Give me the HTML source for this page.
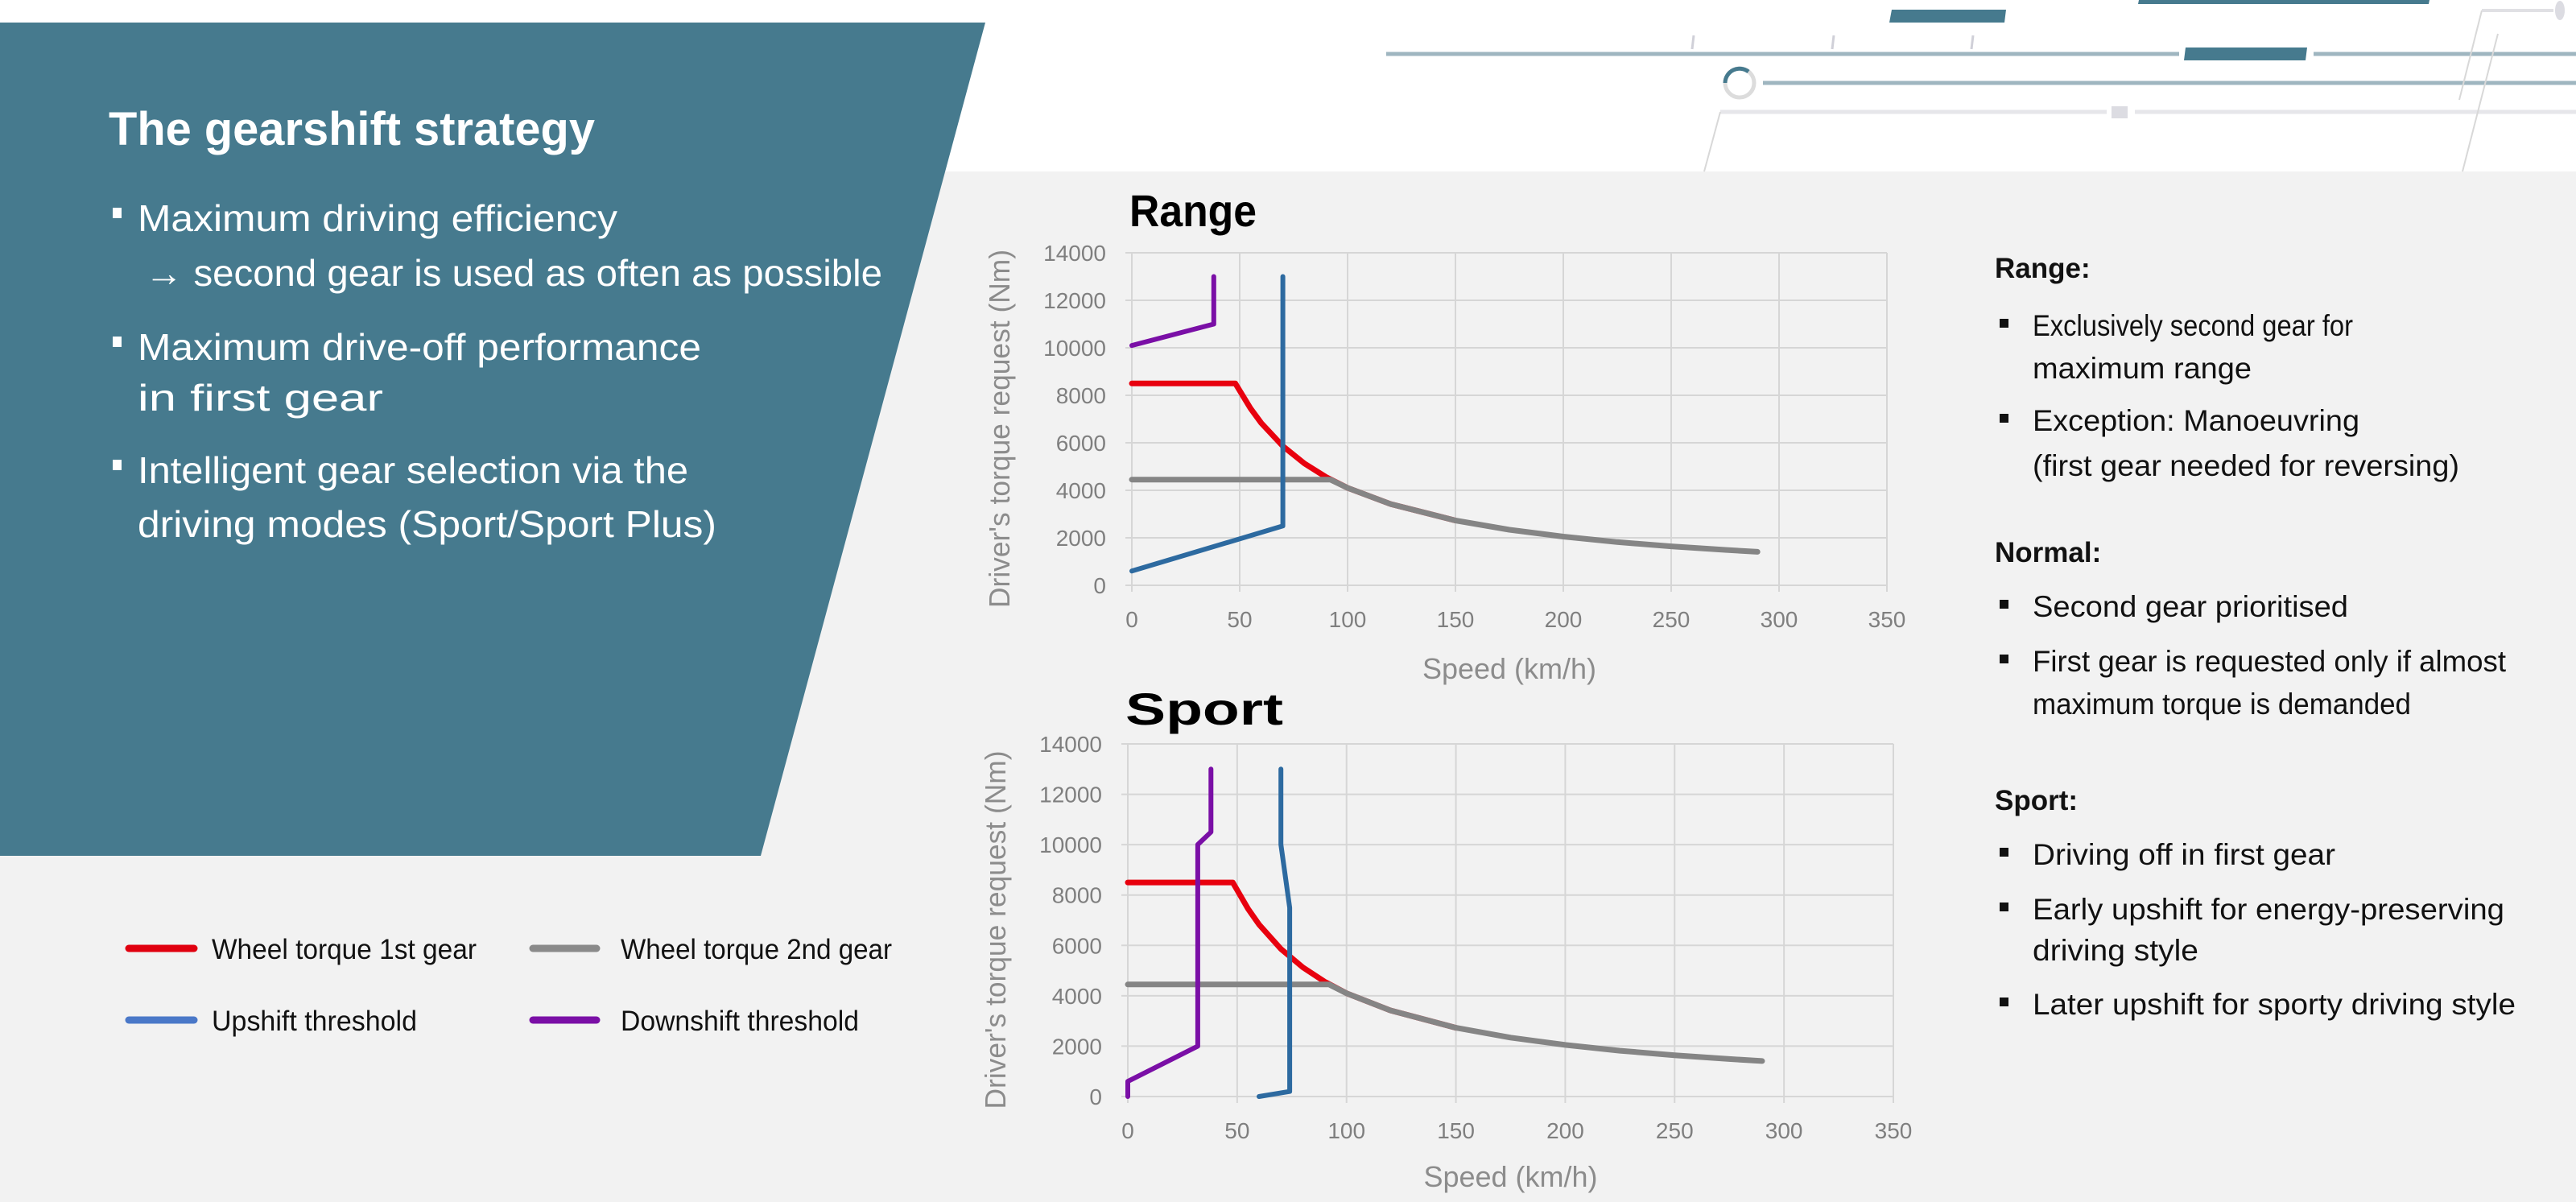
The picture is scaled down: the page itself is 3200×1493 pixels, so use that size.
<!DOCTYPE html>
<html><head><meta charset="utf-8"><title>The gearshift strategy</title>
<style>
html,body{margin:0;padding:0;background:#f2f2f2;}
svg{display:block;}
text{font-family:"Liberation Sans",sans-serif;}
</style></head>
<body>
<svg id="root" width="3200" height="1493" viewBox="0 0 3200 1493" xmlns="http://www.w3.org/2000/svg">
  <rect x="0" y="0" width="3200" height="1493" fill="#f2f2f2"/>
  <rect x="0" y="0" width="3200" height="213" fill="#ffffff"/>
  <g>
    <line x1="1722" y1="67" x2="2707" y2="67" stroke="#9fb6c0" stroke-width="5"/>
    <polygon points="2715,59 2866,59 2864,75 2713,75" fill="#467a8e"/>
    <line x1="2874" y1="67" x2="3200" y2="67" stroke="#9fb6c0" stroke-width="5"/>
    <polygon points="2350,12 2492,12 2490,28 2347,28" fill="#467a8e"/>
    <polygon points="2657,0 3018,0 3017,5 2656,5" fill="#467a8e"/>
    <line x1="2104" y1="44" x2="2102" y2="61" stroke="#d0d0d8" stroke-width="3"/>
    <line x1="2278" y1="44" x2="2276" y2="61" stroke="#d0d0d8" stroke-width="3"/>
    <line x1="2451" y1="44" x2="2449" y2="61" stroke="#d0d0d8" stroke-width="3"/>
    <circle cx="2161" cy="103" r="18" fill="none" stroke="#dcdcdc" stroke-width="5"/>
    <path d="M2143,103 A18,18 0 0 1 2172,89" fill="none" stroke="#467a8e" stroke-width="5"/>
    <line x1="2190" y1="103" x2="3200" y2="103" stroke="#9fb6c0" stroke-width="5"/>
    <line x1="2137" y1="139" x2="2617" y2="139" stroke="#e6e6ea" stroke-width="5"/>
    <rect x="2623" y="132" width="20" height="15" fill="#dcdce2"/>
    <line x1="2652" y1="139" x2="3200" y2="139" stroke="#e6e6ea" stroke-width="5"/>
    <line x1="2137" y1="139" x2="2117" y2="213" stroke="#d8d8d8" stroke-width="2"/>
    <line x1="3083" y1="13" x2="3055" y2="124" stroke="#d8d8d8" stroke-width="2"/>
    <line x1="3103" y1="42" x2="3059" y2="213" stroke="#d8d8d8" stroke-width="2"/>
    <line x1="3083" y1="13" x2="3172" y2="13" stroke="#e0e0e4" stroke-width="4"/>
    <ellipse cx="3180" cy="13" rx="6" ry="12" fill="#dcdce2"/>
  </g>

  <polygon points="0,28 1224,28 945,1063 0,1063" fill="#467a8e"/>
  <g fill="#ffffff">
    <text x="135" y="180" font-size="58" font-weight="bold" textLength="604" lengthAdjust="spacingAndGlyphs">The gearshift strategy</text>
    <rect x="140" y="258" width="11" height="13"/>
    <text x="171" y="287" font-size="46" textLength="596" lengthAdjust="spacingAndGlyphs">Maximum driving efficiency</text>
    <text x="180" y="355" font-size="46" textLength="916" lengthAdjust="spacingAndGlyphs">→ second gear is used as often as possible</text>
    <rect x="140" y="418" width="11" height="13"/>
    <text x="171" y="447" font-size="46" textLength="700" lengthAdjust="spacingAndGlyphs">Maximum drive-off performance</text>
    <text x="171" y="510" font-size="46" textLength="305" lengthAdjust="spacingAndGlyphs">in first gear</text>
    <rect x="140" y="571" width="11" height="13"/>
    <text x="171" y="600" font-size="46" textLength="684" lengthAdjust="spacingAndGlyphs">Intelligent gear selection via the</text>
    <text x="171" y="667" font-size="46" textLength="719" lengthAdjust="spacingAndGlyphs">driving modes (Sport/Sport Plus)</text>
  </g>

  <g>
    <g>
      <line x1="160" y1="1178" x2="241" y2="1178" stroke="#e0000f" stroke-width="9" stroke-linecap="round"/>
      <text x="263" y="1191" font-size="35" fill="#111" textLength="329" lengthAdjust="spacingAndGlyphs">Wheel torque 1st gear</text>
    </g>
    <g>
      <line x1="662" y1="1178" x2="741" y2="1178" stroke="#8a8a8a" stroke-width="9" stroke-linecap="round"/>
      <text x="771" y="1191" font-size="35" fill="#111" textLength="337" lengthAdjust="spacingAndGlyphs">Wheel torque 2nd gear</text>
    </g>
    <g>
      <line x1="160" y1="1267" x2="241" y2="1267" stroke="#4a78c8" stroke-width="9" stroke-linecap="round"/>
      <text x="263" y="1280" font-size="35" fill="#111" textLength="255" lengthAdjust="spacingAndGlyphs">Upshift threshold</text>
    </g>
    <g>
      <line x1="662" y1="1267" x2="741" y2="1267" stroke="#7a0fa6" stroke-width="9" stroke-linecap="round"/>
      <text x="771" y="1280" font-size="35" fill="#111" textLength="296" lengthAdjust="spacingAndGlyphs">Downshift threshold</text>
    </g>
  </g>

  <g fill="#111" font-size="37">
    <text x="2478" y="345" font-weight="bold" font-size="35">Range:</text>
    <rect x="2484" y="396" width="11" height="11"/><text x="2525" y="417" textLength="398" lengthAdjust="spacingAndGlyphs">Exclusively second gear for</text>
    <text x="2525" y="470" textLength="272" lengthAdjust="spacingAndGlyphs">maximum range</text>
    <rect x="2484" y="514" width="11" height="11"/><text x="2525" y="535" textLength="406" lengthAdjust="spacingAndGlyphs">Exception: Manoeuvring</text>
    <text x="2525" y="591" textLength="530" lengthAdjust="spacingAndGlyphs">(first gear needed for reversing)</text>
    <text x="2478" y="698" font-weight="bold" font-size="35">Normal:</text>
    <rect x="2484" y="745" width="11" height="11"/><text x="2525" y="766" textLength="392" lengthAdjust="spacingAndGlyphs">Second gear prioritised</text>
    <rect x="2484" y="813" width="11" height="11"/><text x="2525" y="834" textLength="588" lengthAdjust="spacingAndGlyphs">First gear is requested only if almost</text>
    <text x="2525" y="887" textLength="470" lengthAdjust="spacingAndGlyphs">maximum torque is demanded</text>
    <text x="2478" y="1006" font-weight="bold" font-size="35">Sport:</text>
    <rect x="2484" y="1053" width="11" height="11"/><text x="2525" y="1074" textLength="376" lengthAdjust="spacingAndGlyphs">Driving off in first gear</text>
    <rect x="2484" y="1121" width="11" height="11"/><text x="2525" y="1142" textLength="586" lengthAdjust="spacingAndGlyphs">Early upshift for energy-preserving</text>
    <text x="2525" y="1193" textLength="206" lengthAdjust="spacingAndGlyphs">driving style</text>
    <rect x="2484" y="1239" width="11" height="11"/><text x="2525" y="1260" textLength="600" lengthAdjust="spacingAndGlyphs">Later upshift for sporty driving style</text>
  </g>

  <g id="charts"></g>
</svg>
<script>
const xTicks = [0, 50, 100, 150, 200, 250, 300, 350];
const yTicks = [0, 2000, 4000, 6000, 8000, 10000, 12000, 14000];

const gear1Speed  = [0, 48, 55, 60, 70, 80, 90, 100, 120, 150];
const gear1Torque = [8500, 8500, 7450, 6830, 5860, 5130, 4560, 4100, 3420, 2730];
const gear2Speed  = [0, 92, 100, 120, 150, 175, 200, 225, 250, 275, 290];
const gear2Torque = [4450, 4450, 4100, 3420, 2730, 2340, 2050, 1820, 1640, 1490, 1410];

const rangeUpSpeed    = [0, 70, 70];
const rangeUpTorque   = [600, 2500, 13000];
const rangeDownSpeed  = [0, 38, 38];
const rangeDownTorque = [10100, 11000, 13000];

const sportUpSpeed    = [60, 74, 74, 70, 70];
const sportUpTorque   = [0, 200, 7500, 10000, 13000];
const sportDownSpeed  = [0, 0, 32, 32, 38, 38];
const sportDownTorque = [0, 600, 2000, 10000, 10500, 13000];

const NS = 'http://www.w3.org/2000/svg';
const root = document.getElementById('charts');

function mk(tag, attrs, parent) {
  const e = document.createElementNS(NS, tag);
  for (const k in attrs) e.setAttribute(k, attrs[k]);
  parent.appendChild(e);
  return e;
}

function drawChart(cfg) {
  const g = mk('g', {}, root);
  
  
  const xs = v => cfg.x0 + (v / 350) * (cfg.x1 - cfg.x0);
  const ys = v => cfg.y0 - (v / 14000) * (cfg.y0 - cfg.y1);

  const t = mk('text', {x: cfg.x0 - 3, y: cfg.titleY, 'font-size': 56, 'font-weight': 'bold', fill: '#000'}, g);
  
  
  t.setAttribute('textLength', cfg.titleW);
  t.setAttribute('lengthAdjust', 'spacingAndGlyphs');
  t.textContent = cfg.title;

  xTicks.forEach(v => {
    const l = mk('line', {x1: xs(v), x2: xs(v), y1: cfg.y1, y2: cfg.y0 + 8, stroke: '#d6d6d6', 'stroke-width': 2}, g);
    
    
    const tx = mk('text', {x: xs(v), y: cfg.y0 + 52, 'font-size': 28, fill: '#7f7f7f', 'text-anchor': 'middle'}, g);
    
    
    tx.textContent = v;
  });
  yTicks.forEach(v => {
    const l = mk('line', {x1: cfg.x0 - 8, x2: cfg.x1, y1: ys(v), y2: ys(v), stroke: '#d6d6d6', 'stroke-width': 2}, g);
    
    
    const ty = mk('text', {x: cfg.x0 - 32, y: ys(v) + 10, 'font-size': 28, fill: '#7f7f7f', 'text-anchor': 'end'}, g);
    
    
    ty.textContent = v;
  });

  const xt = mk('text', {x: (cfg.x0 + cfg.x1) / 2, y: cfg.xTitleY, 'font-size': 36, fill: '#8c8c8c', 'text-anchor': 'middle'}, g);
  
  
  xt.textContent = 'Speed (km/h)';
  const cy = (cfg.y0 + cfg.y1) / 2 + 12;
  const yt = mk('text', {x: 0, y: 0, 'font-size': 36, fill: '#8c8c8c', 'text-anchor': 'middle', transform: 'translate(' + (cfg.x0 - 152) + ',' + cy + ') rotate(-90)'}, g);
  
  
  yt.setAttribute('textLength', 445);
  yt.setAttribute('lengthAdjust', 'spacingAndGlyphs');
  yt.textContent = "Driver's torque request (Nm)";

  function series(xsArr, ysArr, color, w, name) {
    const pts = xsArr.map((v, i) => xs(v).toFixed(1) + ',' + ys(ysArr[i]).toFixed(1)).join(' ');
    const p = mk('polyline', {points: pts, fill: 'none', stroke: color, 'stroke-width': w, 'stroke-linejoin': 'round', 'stroke-linecap': 'round'}, g);
    
    
  }
  series(gear1Speed, gear1Torque, '#e8000e', 7, 'line-wheel-torque-1st-gear');
  series(gear2Speed, gear2Torque, '#858585', 7, 'line-wheel-torque-2nd-gear');
  series(cfg.upX, cfg.upY, '#2d6aa0', 6, 'line-upshift-threshold');
  series(cfg.downX, cfg.downY, '#7a0fa6', 6, 'line-downshift-threshold');
}

drawChart({name: 'range-chart', title: 'Range', titleW: 158, titleY: 281, x0: 1406, x1: 2344, y0: 727, y1: 314, xTitleY: 843,
  upX: rangeUpSpeed, upY: rangeUpTorque, downX: rangeDownSpeed, downY: rangeDownTorque});
drawChart({name: 'sport-chart', title: 'Sport', titleW: 196, titleY: 900, x0: 1401, x1: 2352, y0: 1362, y1: 924, xTitleY: 1474,
  upX: sportUpSpeed, upY: sportUpTorque, downX: sportDownSpeed, downY: sportDownTorque});
</script>
</body></html>
